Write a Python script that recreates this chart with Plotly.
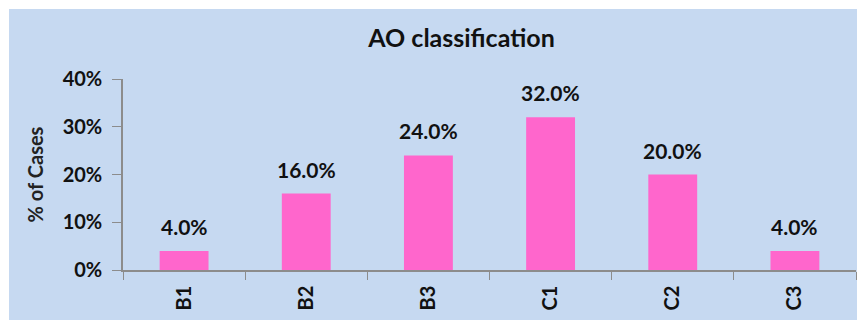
import plotly.graph_objects as go

categories = ["B1", "B2", "B3", "C1", "C2", "C3"]
values = [4.0, 16.0, 24.0, 32.0, 20.0, 4.0]
y_ticks = [0, 10, 20, 30, 40]
y_tick_labels = ["0%", "10%", "20%", "30%", "40%"]

FONT = "Lato"
fig = go.Figure()
fig.add_trace(go.Bar(x=categories, y=values, width=0.4,
                     marker=dict(color="#FF66CC", line=dict(width=0))))

for c, v in zip(categories, values):
    fig.add_annotation(x=c, y=v, text=f"<b>{v:.1f}%</b>", showarrow=False,
                       yanchor="bottom", yshift=10,
                       font=dict(family=FONT, size=21, color="#111"))

fig.add_shape(type="rect", xref="paper", yref="paper", layer="below",
              x0=-114/733, x1=734/733, y0=-50/191, y1=261/191,
              fillcolor="#C6D9F1", line=dict(width=0))

fig.update_layout(
    width=857, height=322,
    margin=dict(l=123, r=1, t=79, b=52),
    paper_bgcolor="white", plot_bgcolor="#C6D9F1",
    showlegend=False,
    title=dict(text="<b>AO classification</b>", x=461.5/857, xanchor="center",
               y=1 - 38/322, yanchor="middle",
               font=dict(family=FONT, size=25, color="#111")),
    font=dict(family=FONT, color="#111"),
)
fig.update_xaxes(type="category", tickangle=-90, tickson="boundaries",
                 ticks="outside", ticklen=8, tickcolor="#8c8c8c",
                 showline=True, linecolor="#8c8c8c", linewidth=1.5,
                 showgrid=False, ticklabelstandoff=6,
                 tickvals=categories, ticktext=[f"<b>{c}</b>" for c in categories],
                 tickfont=dict(family=FONT, size=20, color="#111"))
fig.update_yaxes(range=[0, 40], tickvals=y_ticks, ticktext=[f"<b>{t}</b>" for t in y_tick_labels],
                 ticks="outside", ticklen=9, tickcolor="#8c8c8c",
                 showline=True, linecolor="#8c8c8c", linewidth=1.5,
                 showgrid=False, zeroline=False, ticklabelstandoff=6,
                 tickfont=dict(family=FONT, size=20, color="#111"),
                 title=dict(text="<b>% of Cases</b>", standoff=14,
                            font=dict(family=FONT, size=20, color="#222")))

fig.write_html("out.html")
